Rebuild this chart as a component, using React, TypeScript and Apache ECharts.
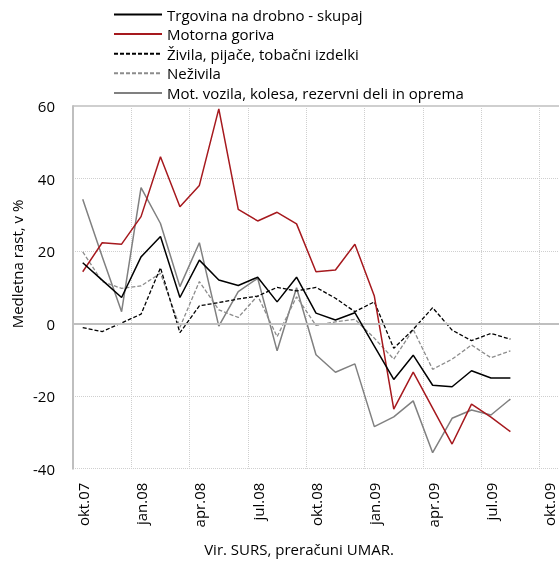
import React, { useEffect, useRef } from "react";
import * as echarts from "echarts";

const months = [
  "okt.07", "nov.07", "dec.07", "jan.08", "feb.08", "mar.08", "apr.08", "maj.08", "jun.08",
  "jul.08", "avg.08", "sep.08", "okt.08", "nov.08", "dec.08", "jan.09", "feb.09", "mar.09",
  "apr.09", "maj.09", "jun.09", "jul.09", "avg.09", "sep.09", "okt.09",
];

const skupaj = [16.8, 12.0, 7.2, 18.4, 24.0, 7.2, 17.5, 12.0, 10.5, 12.8, 6.0, 12.8, 2.9, 1.0, 3.0, -6.2, -15.4, -8.7, -17.0, -17.4, -13.0, -15.0, -15.0];
const goriva = [14.3, 22.3, 21.9, 29.5, 46.0, 32.2, 38.1, 59.2, 31.5, 28.3, 30.7, 27.5, 14.3, 14.8, 21.9, 7.6, -23.6, -13.4, -23.3, -33.2, -22.2, -25.8, -29.8];
const zivila = [-1.1, -2.2, 0.2, 2.6, 15.4, -2.5, 4.9, 5.8, 6.8, 7.6, 10.0, 9.0, 10.0, 7.0, 3.3, 6.0, -6.8, -1.6, 4.4, -1.8, -4.7, -2.7, -4.3];
const nezivila = [19.8, 11.6, 9.7, 10.4, 13.9, -1.0, 11.6, 3.8, 1.7, 7.7, -3.6, 7.4, -0.5, 0.5, 1.2, -4.0, -9.8, -1.6, -12.6, -9.8, -5.9, -9.4, -7.5];
const vozila = [34.3, 18.5, 3.3, 37.5, 27.6, 10.2, 22.3, -0.7, 8.8, 12.5, -7.5, 9.9, -8.6, -13.4, -11.1, -28.4, -25.7, -21.3, -35.6, -26.1, -23.8, -25.2, -20.8];

const names = [
  "Trgovina na drobno - skupaj",
  "Motorna goriva",
  "Živila, pijače, tobačni izdelki",
  "Neživila",
  "Mot. vozila, kolesa, rezervni deli in oprema",
];

const FONT = "'Open Sans', sans-serif";

export default function App() {
  const ref = useRef<HTMLDivElement>(null);
  useEffect(() => {
    if (!ref.current) return;
    const chart = echarts.init(ref.current, undefined, { renderer: "svg" });
    const mk = (name: string, data: number[], color: string, type: any, width: number, extra: any = {}) => ({
      name,
      type: "line",
      data,
      symbol: "none",
      lineStyle: { color, type, width },
      itemStyle: { color },
      ...extra,
    });
    chart.setOption({
      animation: false,
      textStyle: { fontFamily: FONT },
      grid: { left: 73, top: 106, width: 487.5, height: 362.7, show: false },
      legend: {
        orient: "vertical",
        left: 113,
        top: 7,
        padding: 0,
        itemWidth: 48,
        itemHeight: 14,
        itemGap: 4.6,
        itemStyle: { opacity: 0 },
        textStyle: { fontFamily: FONT, fontSize: 15, color: "#000" },
        data: names,
      },
      xAxis: {
        type: "category",
        data: months,
        boundaryGap: true,
        axisLine: { show: true, lineStyle: { color: "#BFBFBF", width: 2 } },
        axisTick: { show: false },
        axisLabel: {
          interval: 2,
          rotate: 90,
          margin: 14,
          fontSize: 15,
          color: "#000",
          fontFamily: FONT,
        },
        splitLine: {
          show: true,
          interval: (i: number) => i % 3 === 0,
          lineStyle: { color: "#CFCFCF", type: "dotted", width: 1 },
        },
      },
      yAxis: {
        type: "value",
        min: -40,
        max: 60,
        interval: 20,
        axisLine: { show: true, lineStyle: { color: "#BFBFBF", width: 2 } },
        axisTick: { show: false },
        axisLabel: { fontSize: 15, color: "#000", margin: 18, fontFamily: FONT },
        splitLine: { show: true, lineStyle: { color: "#CFCFCF", type: "dotted", width: 1 } },
      },
      graphic: [
        {
          type: "line",
          shape: { x1: 73, y1: 106, x2: 559, y2: 106 },
          style: { stroke: "#BFBFBF", lineWidth: 1.5 },
          silent: true,
        },
        {
          type: "text",
          x: 17,
          y: 264,
          rotation: Math.PI / 2,
          style: {
            text: "Medletna rast, v %",
            fontFamily: FONT,
            fontSize: 15,
            fill: "#000",
            align: "center",
            verticalAlign: "middle",
          },
        },
        {
          type: "text",
          x: 299,
          y: 549,
          style: {
            text: "Vir. SURS, preračuni UMAR.",
            fontFamily: FONT,
            fontSize: 15,
            fill: "#000",
            align: "center",
            verticalAlign: "middle",
          },
        },
      ],
      series: [
        mk(names[0], skupaj, "#000000", "solid", 1.5, {
          markLine: {
            silent: true,
            symbol: "none",
            label: { show: false },
            lineStyle: { color: "#BFBFBF", width: 2, type: "solid" },
            data: [{ yAxis: 0 }],
          },
          z: 5,
        }),
        mk(names[1], goriva, "#A6191E", "solid", 1.5, { z: 4 }),
        mk(names[2], zivila, "#000000", [4, 2], 1.3, { z: 3 }),
        mk(names[3], nezivila, "#8C8C8C", [4, 2], 1.3, { z: 2 }),
        mk(names[4], vozila, "#808080", "solid", 1.5, { z: 1 }),
      ],
    });
    return () => chart.dispose();
  }, []);
  return (
    <div
      ref={ref}
      style={{ position: "fixed", left: 0, top: 0, width: 559, height: 562 }}
    />
  );
}
